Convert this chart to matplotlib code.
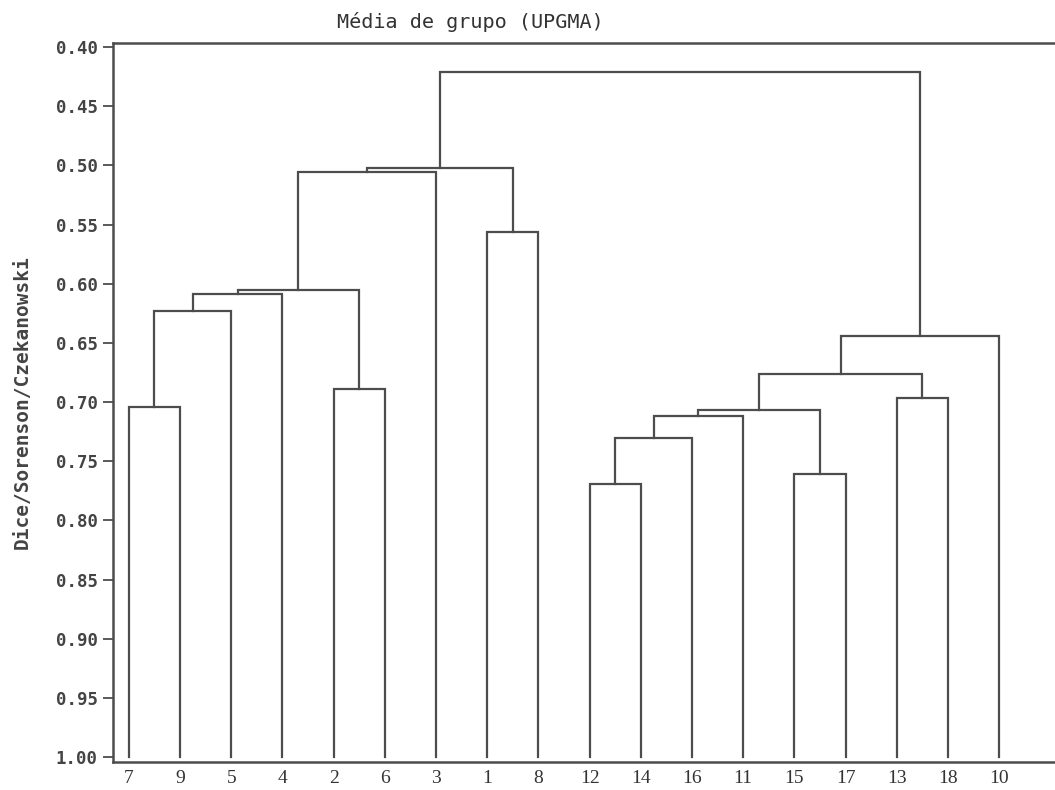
import matplotlib.pyplot as plt

# Leaf order along the x axis
leaves = ['7', '9', '5', '4', '2', '6', '3', '1', '8',
          '12', '14', '16', '11', '15', '17', '13', '18', '10']

# UPGMA merges: left child, right child, similarity level
merge_left = ['7', 'c0', 'c1', '2', 'c2', 'c4', '1', 'c5',
              '12', 'c8', 'c9', '15', 'c10', '13', 'c12', 'c14', 'c7']
merge_right = ['9', '5', '4', '6', 'c3', '3', '8', 'c6',
               '14', '16', '11', '17', 'c11', '18', 'c13', '10', 'c15']
merge_height = [0.704, 0.623, 0.609, 0.689, 0.6055, 0.5055, 0.556, 0.5025,
                0.769, 0.730, 0.7115, 0.7605, 0.707, 0.697, 0.676, 0.644, 0.421]

leaf_level = 1.00
yticks = [0.40, 0.45, 0.50, 0.55, 0.60, 0.65, 0.70, 0.75, 0.80, 0.85, 0.90, 0.95, 1.00]

line_color = '#4d4d4d'

fig = plt.figure(figsize=(10.55, 7.9), dpi=100)
ax = fig.add_axes([113 / 1055, 1 - 762 / 790, 1 - 113 / 1055, (762 - 43) / 790])

# positions and heights of each node
pos = {name: i for i, name in enumerate(leaves)}
level = {name: leaf_level for name in leaves}

for k, (a, b, h) in enumerate(zip(merge_left, merge_right, merge_height)):
    xa, xb = pos[a], pos[b]
    ax.plot([xa, xa, xb, xb], [level[a], h, h, level[b]],
            color=line_color, lw=1.6, solid_joinstyle='miter')
    name = 'c%d' % k
    pos[name] = (xa + xb) / 2
    level[name] = h

ax.set_xlim(-0.31, 18.09)
ax.set_ylim(1.0042, 0.3966)

ax.set_xticks(range(len(leaves)))
ax.set_xticklabels(leaves, family='Liberation Serif', fontsize=14)
ax.tick_params(axis='x', length=0, pad=6, colors='#333333')

ax.set_yticks(yticks)
ax.set_yticklabels(['%.2f' % v for v in yticks], family='DejaVu Sans Mono',
                   fontweight='bold', fontsize=12.5)
ax.tick_params(axis='y', length=7, width=1.3, pad=4, color=line_color,
               labelcolor='#444444')

for side in ['left', 'top', 'bottom']:
    ax.spines[side].set_color(line_color)
    ax.spines[side].set_linewidth(1.8)
ax.spines['right'].set_visible(False)

fig.text(470 / 1055, 1 - 22 / 790, 'Média de grupo (UPGMA)', ha='center', va='center',
         family='DejaVu Sans Mono', fontsize=14.5, color='#333333')
fig.text(22 / 1055, 1 - 402 / 790, 'Dice/Sorenson/Czekanowski', ha='center', va='center',
         rotation=90, family='DejaVu Sans Mono', fontweight='bold', fontsize=14,
         color='#444444')

fig.savefig('out.png', dpi=100)
